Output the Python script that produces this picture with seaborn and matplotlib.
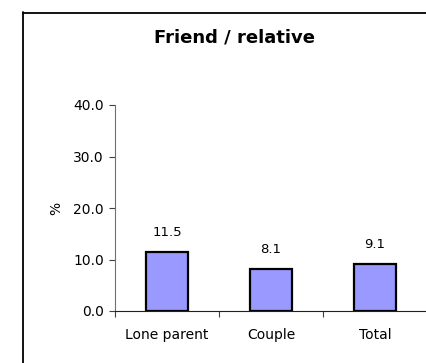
import matplotlib
matplotlib.use("Agg")
import matplotlib.pyplot as plt
import seaborn as sns
import pandas as pd
from matplotlib.lines import Line2D

categories = ["Lone parent", "Couple", "Total"]
values = [11.5, 8.1, 9.1]
yticks = [0, 10, 20, 30, 40]
title = "Friend / relative"
ylabel = "%"

sns.set_theme(style="white")
plt.rcParams['font.family'] = ['DejaVu Sans']

W, H = 427, 363
fig = plt.figure(figsize=(W / 100, H / 100), dpi=100)
fig.patch.set_facecolor("white")

left, right, top, bottom = 115, 427, 105, 311
ax = fig.add_axes([left / W, 1 - bottom / H, (right - left) / W, (bottom - top) / H])
ax.set_facecolor("white")

df = pd.DataFrame({"cat": categories, "val": values})
sns.barplot(data=df, x="cat", y="val", ax=ax, color="#9999FF", saturation=1,
            width=0.4, edgecolor="black", linewidth=1.6)

ax.set_ylim(0, 40)
ax.set_xlim(-0.5, len(categories) - 0.5)
ax.set_yticks(yticks)
ax.set_yticklabels([f"{v:.1f}" for v in yticks], fontsize=10, color="black")
ax.set_xticks(range(len(categories)))
ax.set_xticklabels(categories, fontsize=10, color="black")
ax.set_xticks([i - 0.5 for i in range(len(categories) + 1)], minor=True)
ax.tick_params(axis="x", which="major", length=0, pad=12)
ax.tick_params(axis="x", which="minor", length=4, width=0.8, color="#404040", direction="out", bottom=True)
ax.tick_params(axis="y", which="major", length=4, width=0.8, color="#404040", direction="out", left=True, pad=4)

ax.set_xlabel("")
ax.set_ylabel(ylabel, fontsize=10, color="black", labelpad=7)

for s in ["top", "right"]:
    ax.spines[s].set_visible(False)
ax.spines["left"].set_color("#707070")
ax.spines["left"].set_linewidth(0.8)
ax.spines["bottom"].set_color("#202020")
ax.spines["bottom"].set_linewidth(0.8)

for i, v in enumerate(values):
    ax.annotate(f"{v:.1f}", xy=(i, v), xytext=(0, 14), textcoords="offset points",
                ha="center", va="center", fontsize=9.5, color="black")

fig.text(235 / W, 1 - 38 / H, title, ha="center", va="center",
         fontsize=13, fontweight="bold", color="black")

# chart frame (cropped: only left and top edges visible)
fig.add_artist(Line2D([23.5 / W, 23.5 / W], [0, 1 - 12 / H], transform=fig.transFigure,
                      color="black", linewidth=1.3))
fig.add_artist(Line2D([23 / W, 1], [1 - 12.5 / H, 1 - 12.5 / H], transform=fig.transFigure,
                      color="black", linewidth=1.3))

fig.savefig("out.png", dpi=100, facecolor="white")
